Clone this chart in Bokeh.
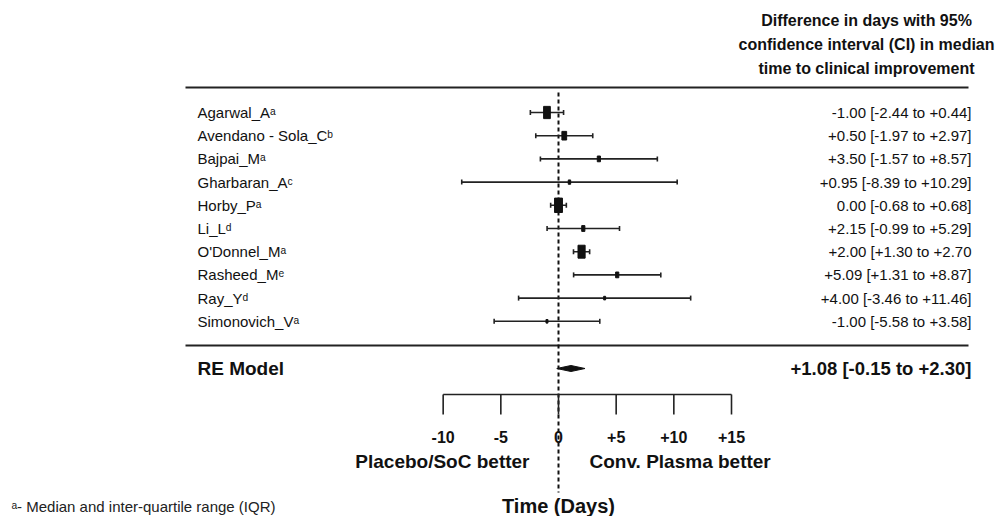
from bokeh.plotting import figure
from bokeh.models import Range1d
from bokeh.core.properties import value
from bokeh.embed import file_html
from bokeh.resources import INLINE

# ---------------- data ----------------
studies = ["Agarwal_A", "Avendano - Sola_C", "Bajpai_M", "Gharbaran_A", "Horby_P",
           "Li_L", "O'Donnel_M", "Rasheed_M", "Ray_Y", "Simonovich_V"]
notes = ["\u1d43", "\u1d47", "\u1d43", "\u1d9c", "\u1d43", "\u1d48", "\u1d43", "\u1d49", "\u1d48", "\u1d43"]
est = [-1.00, 0.50, 3.50, 0.95, 0.00, 2.15, 2.00, 5.09, 4.00, -1.00]
lo = [-2.44, -1.97, -1.57, -8.39, -0.68, -0.99, 1.30, 1.31, -3.46, -5.58]
hi = [0.44, 2.97, 8.57, 10.29, 0.68, 5.29, 2.70, 8.87, 11.46, 3.58]
weights = [17, 12, 8, 6, 20, 8, 18, 8, 5, 5]  # relative study weights (estimated)
ci_labels = ["-1.00 [-2.44 to +0.44]", "+0.50 [-1.97 to +2.97]", "+3.50 [-1.57 to +8.57]",
             "+0.95 [-8.39 to +10.29]", "0.00 [-0.68 to +0.68]", "+2.15 [-0.99 to +5.29]",
             "+2.00 [+1.30 to +2.70", "+5.09 [+1.31 to +8.87]", "+4.00 [-3.46 to +11.46]",
             "-1.00 [-5.58 to +3.58]"]
re_est, re_lo, re_hi = 1.08, -0.15, 2.30
re_label = "+1.08 [-0.15 to +2.30]"
ticks = [-10, -5, 0, 5, 10, 15]
tick_labels = ["-10", "-5", "0", "+5", "+10", "+15"]
header = ["Difference in days with 95%", "confidence interval (CI) in median",
          "time to clinical improvement"]

# ---------------- layout helpers ----------------
W, H = 998, 516
PX_PER_DAY = 173 / 15.0
ZERO_X = 558
X0 = -ZERO_X / PX_PER_DAY
X1 = X0 + W / PX_PER_DAY


def px(page_x):
    return X0 + page_x / PX_PER_DAY


row_y = [112 + 23.2 * i for i in range(len(studies))]
BLACK = "#111111"
REG = value("Liberation Sans")
BOLD = value("Liberation Sans Narrow, Liberation Sans, Arial Narrow, sans-serif")

p = figure(width=W, height=H, x_range=Range1d(X0, X1), y_range=Range1d(H, 0),
           output_backend="svg", toolbar_location=None, min_border=0)
p.axis.visible = False
p.grid.visible = False
p.outline_line_color = None
p.background_fill_color = "white"
p.border_fill_color = "white"

# header
p.text(x=[px(866)] * 3, y=[20, 44, 68], text=header, text_font=REG, text_font_style="bold",
       text_font_size="16px", text_align="center", text_baseline="middle", text_color=BLACK)

# horizontal rules
p.segment(x0=[px(185)] * 2, y0=[87, 345], x1=[px(968)] * 2, y1=[87, 345],
          line_color="#222222", line_width=2)

# zero line
p.segment(x0=[0], y0=[92], x1=[0], y1=[492], line_color=BLACK, line_width=2, line_dash="4 3")

# study labels
p.text(x=[px(197)] * len(studies), y=row_y, text=[s + n for s, n in zip(studies, notes)],
       text_font=REG, text_font_size="15px", text_align="left", text_baseline="middle",
       text_color=BLACK)
p.text(x=[px(971)] * len(studies), y=row_y, text=ci_labels, text_font=REG,
       text_font_size="15px", text_align="right", text_baseline="middle", text_color=BLACK)

# CIs with caps
p.segment(x0=lo, y0=row_y, x1=hi, y1=row_y, line_color="#222222", line_width=1.6)
p.segment(x0=lo + hi, y0=[y - 2.5 for y in row_y] * 2, x1=lo + hi,
          y1=[y + 2.5 for y in row_y] * 2, line_color="#222222", line_width=1.6)

# squares sized by weight
hts = [0.72 * w for w in weights]
wds = [0.55 * h for h in hts]
p.rect(x=est, y=row_y, width=wds, height=hts, width_units="screen", height_units="screen",
       fill_color=BLACK, line_color=BLACK)

# RE model
RE_Y = 368
p.patch(x=[re_lo, re_est, re_hi, re_est], y=[RE_Y, RE_Y - 3, RE_Y, RE_Y + 3],
        fill_color=BLACK, line_color=BLACK)
p.text(x=[px(197)], y=[RE_Y], text=["RE Model"], text_font=BOLD, text_font_style="bold",
       text_font_size="19px", text_align="left", text_baseline="middle", text_color=BLACK)
p.text(x=[px(971)], y=[RE_Y], text=[re_label], text_font=BOLD, text_font_style="bold",
       text_font_size="18.5px", text_align="right", text_baseline="middle", text_color=BLACK)

# custom axis
AX_Y = 394
p.segment(x0=[ticks[0]], y0=[AX_Y], x1=[ticks[-1]], y1=[AX_Y], line_color="#222222", line_width=1.6)
p.segment(x0=ticks, y0=[AX_Y] * len(ticks), x1=ticks, y1=[AX_Y + 20] * len(ticks),
          line_color="#222222", line_width=1.6)
p.text(x=ticks, y=[436] * len(ticks), text=tick_labels, text_font=BOLD, text_font_style="bold",
       text_font_size="16px", text_align="center", text_baseline="middle", text_color=BLACK)

p.text(x=[px(529)], y=[461], text=["Placebo/SoC better"], text_font=BOLD,
       text_font_style="bold", text_font_size="19px", text_align="right",
       text_baseline="middle", text_color=BLACK)
p.text(x=[px(589)], y=[461], text=["Conv. Plasma better"], text_font=BOLD,
       text_font_style="bold", text_font_size="19px", text_align="left",
       text_baseline="middle", text_color=BLACK)
p.text(x=[0], y=[505], text=["Time (Days)"], text_font=BOLD, text_font_style="bold",
       text_font_size="20px", text_align="center", text_baseline="middle", text_color=BLACK)

# footnote
p.text(x=[px(11)], y=[506], text=["\u1d43- Median and inter-quartile range (IQR)"], text_font=REG,
       text_font_size="15px", text_align="left", text_baseline="middle", text_color="#222222")

open("out.html", "w").write(file_html(p, INLINE))
